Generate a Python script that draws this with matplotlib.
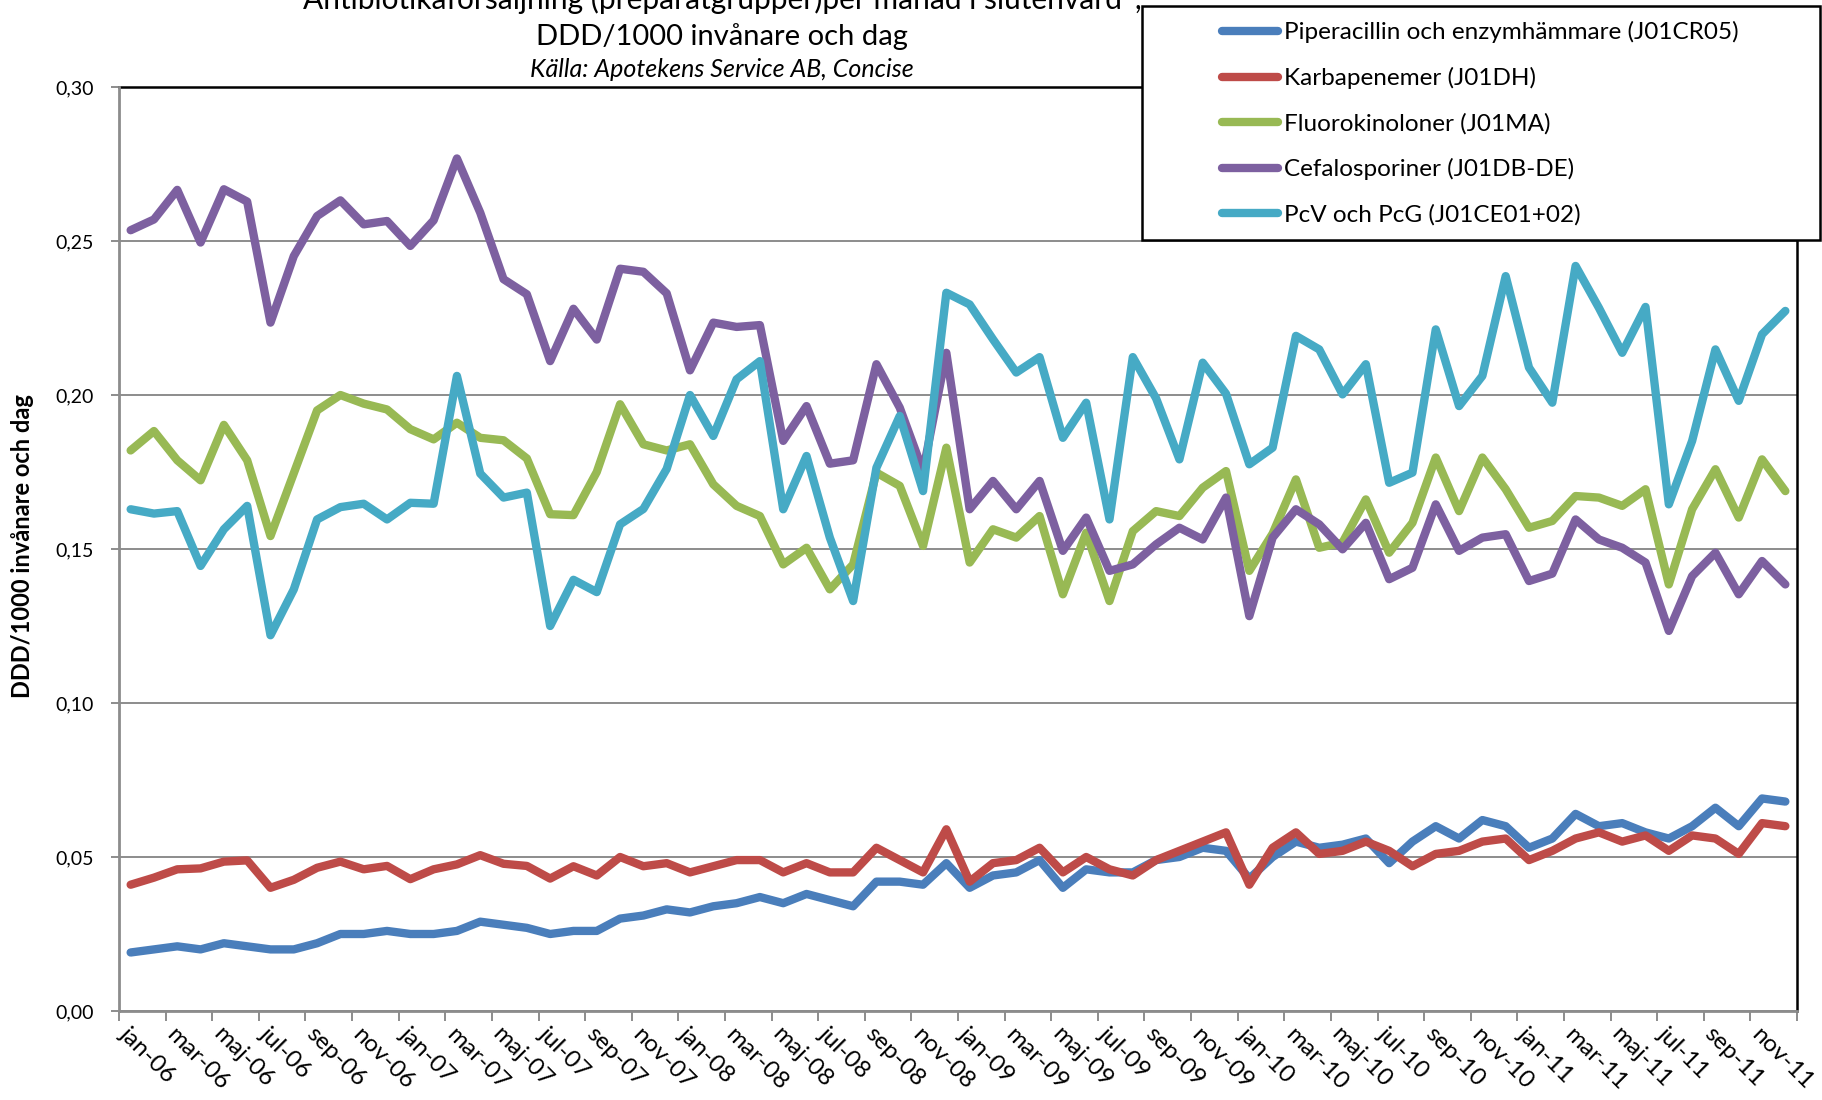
import matplotlib
matplotlib.use("Agg")
import matplotlib.pyplot as plt
from matplotlib.patches import Rectangle
import numpy as np

month_names = ["jan", "feb", "mar", "apr", "maj", "jun", "jul", "aug", "sep", "okt", "nov", "dec"]
years = ["06", "07", "08", "09", "10", "11"]
months = [f"{m}-{y}" for y in years for m in month_names]

piperacillin = [0.019, 0.020, 0.021, 0.020, 0.022, 0.021, 0.020, 0.020, 0.022, 0.025, 0.025, 0.026,
                0.025, 0.025, 0.026, 0.029, 0.028, 0.027, 0.025, 0.026, 0.026, 0.030, 0.031, 0.033,
                0.032, 0.034, 0.035, 0.037, 0.035, 0.038, 0.036, 0.034, 0.042, 0.042, 0.041, 0.048,
                0.040, 0.044, 0.045, 0.049, 0.040, 0.046, 0.045, 0.045, 0.049, 0.050, 0.053, 0.052,
                0.043, 0.050, 0.055, 0.053, 0.054, 0.056, 0.048, 0.055, 0.060, 0.056, 0.062, 0.060,
                0.053, 0.056, 0.064, 0.060, 0.061, 0.058, 0.056, 0.060, 0.066, 0.060, 0.069, 0.068]
karbapenemer = [0.041, 0.0433, 0.046, 0.0463, 0.0485, 0.0489, 0.040, 0.0426, 0.0465, 0.0485, 0.046, 0.0471,
                0.0428, 0.046, 0.0476, 0.0506, 0.0478, 0.0471, 0.043, 0.047, 0.044, 0.050, 0.047, 0.048,
                0.045, 0.047, 0.049, 0.049, 0.045, 0.048, 0.045, 0.045, 0.053, 0.049, 0.045, 0.059,
                0.042, 0.048, 0.049, 0.053, 0.045, 0.050, 0.046, 0.044, 0.049, 0.052, 0.055, 0.058,
                0.041, 0.053, 0.058, 0.051, 0.052, 0.055, 0.052, 0.047, 0.051, 0.052, 0.055, 0.056,
                0.049, 0.052, 0.056, 0.058, 0.055, 0.057, 0.052, 0.057, 0.056, 0.051, 0.061, 0.060]
fluorokinoloner = [0.1820, 0.1883, 0.1788, 0.1723, 0.1903, 0.1788, 0.1542, 0.1746, 0.1950, 0.2000, 0.1972, 0.1953,
                   0.1889, 0.1856, 0.1910, 0.1861, 0.1853, 0.1794, 0.1613, 0.161, 0.175, 0.197, 0.184, 0.182,
                   0.184, 0.1710, 0.1640, 0.1607, 0.1450, 0.1504, 0.1369, 0.1450, 0.1748, 0.1705, 0.1510, 0.1829,
                   0.1456, 0.1564, 0.1537, 0.1607, 0.1353, 0.1553, 0.1331, 0.1558, 0.1623, 0.1607, 0.1699, 0.1753,
                   0.1429, 0.155, 0.1726, 0.1504, 0.1521, 0.1661, 0.1488, 0.1585, 0.1797, 0.1623, 0.1797, 0.1694,
                   0.1569, 0.1591, 0.1672, 0.1667, 0.1640, 0.1694, 0.1385, 0.1629, 0.1759, 0.1602, 0.1791, 0.1688]
cefalosporiner = [0.2535, 0.2570, 0.2666, 0.2495, 0.2668, 0.2628, 0.2235, 0.2451, 0.2581, 0.2632, 0.2554, 0.2565,
                  0.2484, 0.2567, 0.2768, 0.2592, 0.2376, 0.2327, 0.211, 0.228, 0.218, 0.241, 0.240, 0.233,
                  0.208, 0.2235, 0.2221, 0.2227, 0.1851, 0.1964, 0.1777, 0.1788, 0.2100, 0.1959, 0.1753, 0.2137,
                  0.1629, 0.1721, 0.1629, 0.1721, 0.1494, 0.1602, 0.1429, 0.1450, 0.1515, 0.1569, 0.1531, 0.1667,
                  0.1282, 0.1537, 0.1629, 0.1580, 0.1499, 0.1585, 0.1402, 0.1439, 0.1645, 0.1494, 0.1537, 0.1548,
                  0.1396, 0.1420, 0.1596, 0.1531, 0.1504, 0.1456, 0.1234, 0.1412, 0.1488, 0.1353, 0.1461, 0.1385]
pcv_pcg = [0.1629, 0.1615, 0.1623, 0.1445, 0.1564, 0.1640, 0.122, 0.1369, 0.1596, 0.1636, 0.1647, 0.1596,
           0.1650, 0.1647, 0.2062, 0.1745, 0.1667, 0.1683, 0.125, 0.140, 0.136, 0.158, 0.163, 0.176,
           0.200, 0.1867, 0.2051, 0.2110, 0.1629, 0.1802, 0.1537, 0.1331, 0.1764, 0.1932, 0.1688, 0.2332,
           0.2294, 0.2181, 0.2073, 0.2123, 0.1861, 0.1975, 0.1596, 0.2123, 0.1989, 0.1791, 0.2105, 0.2004,
           0.1775, 0.1829, 0.2192, 0.2148, 0.2002, 0.2100, 0.1715, 0.1748, 0.2213, 0.1964, 0.2062, 0.2386,
           0.2089, 0.1975, 0.2419, 0.2283, 0.2137, 0.2286, 0.1645, 0.1851, 0.2148, 0.1981, 0.2197, 0.2273]

series_names = ["Piperacillin och enzymhämmare (J01CR05)", "Karbapenemer (J01DH)",
                "Fluorokinoloner (J01MA)", "Cefalosporiner (J01DB-DE)", "PcV och PcG (J01CE01+02)"]
series_values = [piperacillin, karbapenemer, fluorokinoloner, cefalosporiner, pcv_pcg]
colors = ["#4A7EBB", "#BE4B48", "#98B954", "#7D60A0", "#46AAC5"]

y_ticks = [0.00, 0.05, 0.10, 0.15, 0.20, 0.25, 0.30]

title_line1 = "Antibiotikaförsäljning (preparatgrupper)per månad i slutenvård*,"
title_line2 = "DDD/1000 invånare och dag"
title_line3 = "Källa: Apotekens Service AB, Concise"
y_label = "DDD/1000 invånare och dag"

FONT = ["Lato", "DejaVu Sans"]
plt.rcParams["font.family"] = FONT

W, H = 1822, 1100
fig = plt.figure(figsize=(W / 100, H / 100), dpi=100)
ax = fig.add_axes([119 / W, 1 - 1011 / H, (1797 - 119) / W, (1011 - 87) / H])

n = len(months)
x = np.arange(n)
lines = []
for name, vals, c in zip(series_names, series_values, colors):
    ln, = ax.plot(x, vals, color=c, lw=6.0, solid_capstyle="round",
                  solid_joinstyle="round", label=name, zorder=3)
    lines.append(ln)

ax.set_xlim(-0.5, n - 0.5)
ax.set_ylim(0, 0.30)
ax.set_yticks(y_ticks)
ax.set_yticklabels([f"{v:.2f}".replace(".", ",") for v in y_ticks])
ax.yaxis.grid(True, color="#8C8C8C", lw=1.4)
ax.set_axisbelow(True)

# x ticks: marks at boundaries every 2 months, labels on every other month
ax.set_xticks(np.arange(-0.5, n, 2))
ax.set_xticklabels([])
ax.set_xticks(np.arange(0, n, 2), minor=True)
ax.set_xticklabels(months[::2], minor=True, rotation=-45, ha="left", va="top",
                   rotation_mode="anchor", fontsize=17.5)
ax.tick_params(axis="x", which="major", length=7, width=1.4, color="#8C8C8C", direction="out")
ax.tick_params(axis="x", which="minor", length=0, pad=9)
ax.tick_params(axis="y", length=6, width=1.4, color="#8C8C8C", labelsize=14, pad=12)

for s in ["left", "bottom"]:
    ax.spines[s].set_color("#8C8C8C")
    ax.spines[s].set_linewidth(2)
for s in ["top", "right"]:
    ax.spines[s].set_color("black")
    ax.spines[s].set_linewidth(1.8)
ax.spines["left"].set_zorder(4)
ax.spines["bottom"].set_zorder(4)

# titles
fig.text(722 / W, 1 - 9 / H, title_line1, ha="center", va="baseline", fontsize=21.5)
fig.text(722 / W, 1 - 45 / H, title_line2, ha="center", va="baseline", fontsize=21)
fig.text(722 / W, 1 - 77 / H, title_line3, ha="center", va="baseline", fontsize=18, style="italic")

fig.text(23 / W, 1 - 546 / H, y_label, rotation=90, ha="center", va="center",
         fontsize=17, fontweight="bold")

# legend box
box = Rectangle((1142 / W, 1 - 240 / H), (1820 - 1142) / W, (240 - 6) / H,
                transform=fig.transFigure, facecolor="white", edgecolor="black",
                lw=1.8, zorder=10)
fig.patches.append(box)
leg = fig.legend(handles=lines, labels=series_names, loc="center",
                 bbox_to_anchor=(1480 / W, 1 - 123.5 / H), frameon=False,
                 fontsize=17.5, handlelength=2.3, handletextpad=0.25, labelspacing=0.98,
                 borderpad=0, borderaxespad=0)
leg.set_zorder(11)
for t in leg.get_texts():
    t.set_ha("left")

fig.savefig("out.png", dpi=100)
